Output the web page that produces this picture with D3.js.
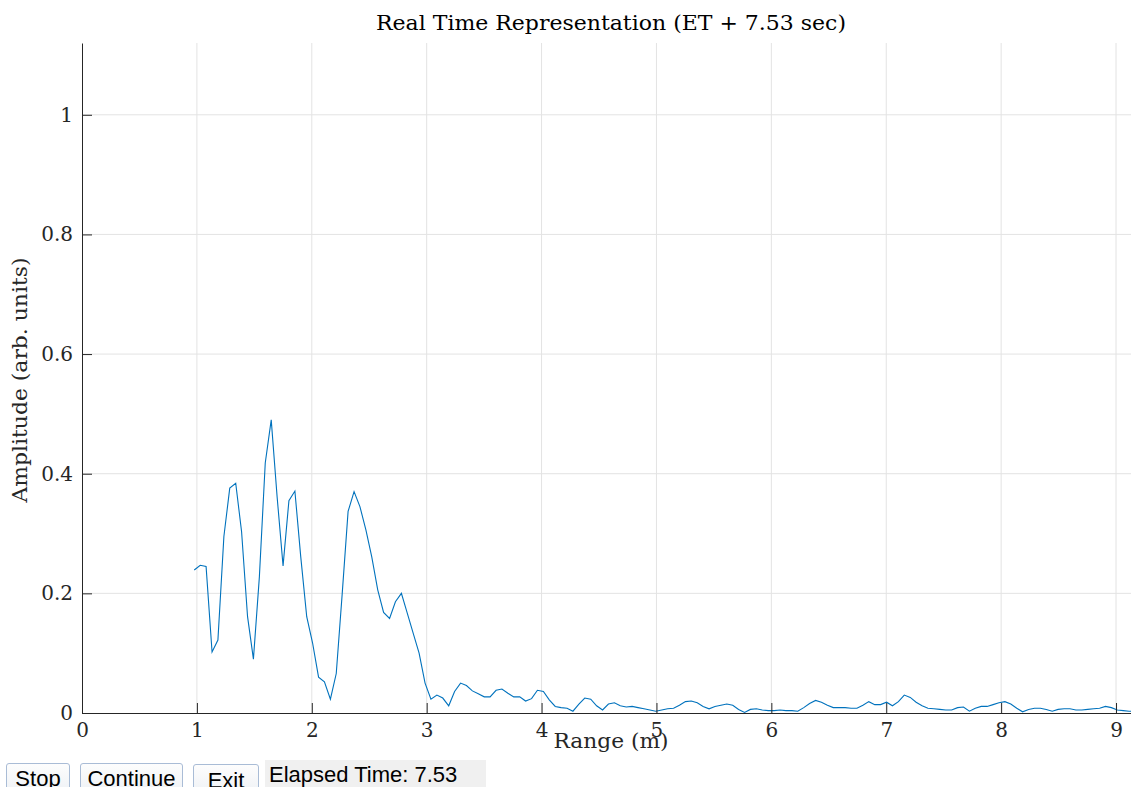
<!DOCTYPE html>
<html>
<head>
<meta charset="utf-8">
<script src="https://cdn.jsdelivr.net/npm/d3@7"></script>
<style>
  html, body { margin: 0; padding: 0; background: #fff; overflow: hidden; }
  #graph { position: absolute; left: 0; top: 0; }
  .grid line { stroke: #e3e3e3; stroke-width: 1; }
  .axis path, .axis line { stroke: #262626; }
  .axis text { font-family: "DejaVu Serif", serif; font-size: 20px; fill: #262626; }
  .line { fill: none; stroke: #0072bd; stroke-width: 1.1; }
  .ctl { position: absolute; font-family: "Liberation Sans", Arial, sans-serif; font-size: 22px;
         color: #000; box-sizing: border-box; }
  .btn { background: linear-gradient(#fdfdfd, #eef1f5); border: 1px solid #a9bcd6; border-radius: 3px;
         text-align: center; line-height: 30px; height: 32px; }
  .lbl { background: #f0f0f0; line-height: 30px; height: 32px; padding-left: 4px; }
</style>
</head>
<body>
<div id="graph"></div>
<div class="ctl btn" style="left:6px; top:763px; width:64px;">Stop</div>
<div class="ctl btn" style="left:80px; top:763px; width:103px;">Continue</div>
<div class="ctl btn" style="left:193px; top:764px; width:66px; line-height:32px;">Exit</div>
<div class="ctl lbl" style="left:265px; top:760px; width:221px;">Elapsed Time: 7.53</div>
<script>
// range bins (m)
var range = [
  0.977, 1.029, 1.080, 1.132, 1.183, 1.235, 1.286, 1.338, 1.389, 1.441,
  1.492, 1.544, 1.595, 1.647, 1.698, 1.750, 1.801, 1.853, 1.904, 1.956,
  2.007, 2.059, 2.110, 2.162, 2.213, 2.265, 2.316, 2.368, 2.419, 2.471,
  2.522, 2.574, 2.625, 2.677, 2.728, 2.780, 2.831, 2.883, 2.934, 2.986,
  3.037, 3.089, 3.140, 3.192, 3.243, 3.295, 3.346, 3.398, 3.449, 3.501,
  3.552, 3.604, 3.655, 3.707, 3.758, 3.810, 3.861, 3.913, 3.964, 4.016,
  4.067, 4.119, 4.170, 4.222, 4.273, 4.325, 4.376, 4.428, 4.479, 4.531,
  4.582, 4.634, 4.685, 4.737, 4.788, 4.840, 4.891, 4.943, 4.994, 5.046,
  5.097, 5.149, 5.200, 5.252, 5.303, 5.355, 5.406, 5.458, 5.509, 5.561,
  5.612, 5.664, 5.715, 5.767, 5.818, 5.870, 5.921, 5.973, 6.024, 6.076,
  6.127, 6.179, 6.230, 6.282, 6.333, 6.385, 6.436, 6.488, 6.539, 6.591,
  6.642, 6.694, 6.745, 6.797, 6.848, 6.900, 6.951, 7.003, 7.054, 7.106,
  7.157, 7.209, 7.260, 7.312, 7.363, 7.415, 7.466, 7.518, 7.569, 7.621,
  7.672, 7.724, 7.775, 7.827, 7.878, 7.930, 7.981, 8.033, 8.084, 8.136,
  8.187, 8.239, 8.290, 8.342, 8.393, 8.445, 8.496, 8.548, 8.599, 8.651,
  8.702, 8.754, 8.805, 8.857, 8.908, 8.960, 9.011, 9.063, 9.114, 9.166
];

// amplitude (arb. units)
var amplitude = [
  0.239, 0.247, 0.245, 0.102, 0.122, 0.295, 0.376, 0.384, 0.303, 0.161,
  0.090, 0.228, 0.418, 0.490, 0.362, 0.246, 0.355, 0.371, 0.261, 0.161,
  0.117, 0.060, 0.052, 0.023, 0.066, 0.200, 0.337, 0.370, 0.345, 0.306,
  0.261, 0.206, 0.168, 0.158, 0.186, 0.200, 0.167, 0.133, 0.100, 0.050,
  0.023, 0.030, 0.025, 0.012, 0.036, 0.050, 0.046, 0.037, 0.032, 0.027,
  0.027, 0.038, 0.040, 0.033, 0.027, 0.027, 0.020, 0.024, 0.038, 0.036,
  0.022, 0.011, 0.009, 0.008, 0.003, 0.015, 0.025, 0.023, 0.012, 0.005,
  0.015, 0.017, 0.012, 0.010, 0.011, 0.009, 0.007, 0.005, 0.003, 0.005,
  0.007, 0.008, 0.013, 0.019, 0.020, 0.017, 0.011, 0.007, 0.011, 0.013,
  0.015, 0.013, 0.006, 0.001, 0.006, 0.007, 0.005, 0.004, 0.004, 0.005,
  0.004, 0.004, 0.003, 0.009, 0.016, 0.021, 0.018, 0.013, 0.009, 0.009,
  0.009, 0.008, 0.008, 0.013, 0.019, 0.014, 0.014, 0.018, 0.012, 0.019,
  0.030, 0.026, 0.018, 0.012, 0.008, 0.007, 0.006, 0.005, 0.005, 0.009,
  0.010, 0.003, 0.008, 0.011, 0.011, 0.014, 0.017, 0.019, 0.015, 0.008,
  0.002, 0.006, 0.008, 0.008, 0.006, 0.003, 0.006, 0.007, 0.007, 0.005,
  0.005, 0.006, 0.007, 0.008, 0.011, 0.009, 0.005, 0.004, 0.003, 0.003
];

var xTicks = [0, 1, 2, 3, 4, 5, 6, 7, 8, 9];
var yTicks = [0, 0.2, 0.4, 0.6, 0.8, 1];
var titleText = "Real Time Representation (ET + 7.53 sec)";
var xLabel = "Range (m)";
var yLabel = "Amplitude (arb. units)";

var W = 1131, H = 787;
var margin = {top: 43, left: 82, bottom: 74};
var plotH = H - margin.top - margin.bottom;   // 670
var plotW = 1057;                             // axes run past the window edge

var xScale = d3.scaleLinear().domain([0, 9.2]).range([0, plotW]);
var yScale = d3.scaleLinear().domain([0, 1.12]).range([plotH, 0]);

var svg = d3.select("#graph").append("svg")
    .attr("width", W)
    .attr("height", H);

var g = svg.append("g")
    .attr("transform", "translate(" + margin.left + "," + margin.top + ")");

// grid
g.append("g").attr("class", "grid")
    .selectAll("line.v").data(xTicks.slice(1)).enter().append("line")
    .attr("x1", function(d) { return xScale(d); })
    .attr("x2", function(d) { return xScale(d); })
    .attr("y1", 0).attr("y2", plotH);
g.append("g").attr("class", "grid")
    .selectAll("line.h").data(yTicks.slice(1)).enter().append("line")
    .attr("x1", 0).attr("x2", plotW)
    .attr("y1", function(d) { return yScale(d); })
    .attr("y2", function(d) { return yScale(d); });

// the trace
var line = d3.line()
    .x(function(d, i) { return xScale(range[i]); })
    .y(function(d) { return yScale(d); });

g.append("path")
    .datum(amplitude)
    .attr("class", "line")
    .attr("d", line);

// axes, ticks pointing inward like matlab
var xAxis = g.append("g")
    .attr("class", "x axis")
    .attr("transform", "translate(0," + plotH + ")")
    .call(d3.axisBottom(xScale).tickValues(xTicks).tickSizeInner(-10).tickSizeOuter(0)
        .tickPadding(17).tickFormat(d3.format("d")));
xAxis.selectAll("text").attr("dy", "0.35em");

g.append("g")
    .attr("class", "y axis")
    .call(d3.axisLeft(yScale).tickValues(yTicks).tickSizeInner(-10).tickSizeOuter(0)
        .tickPadding(9).tickFormat(function(d) { return d3.format("")(d); }));

// title + labels (stretched to the wide TeX font of the original)
function label(sel, size, len) {
    return sel.attr("text-anchor", "middle")
        .attr("textLength", len)
        .attr("lengthAdjust", "spacingAndGlyphs")
        .style("font-family", "DejaVu Serif, serif")
        .style("font-size", size + "px");
}

label(svg.append("text").attr("x", 611).attr("y", 30), 20, 470)
    .style("fill", "#000")
    .text(titleText);

label(svg.append("text").attr("x", 611).attr("y", 748), 20, 115)
    .style("fill", "#262626")
    .text(xLabel);

label(svg.append("text").attr("transform", "translate(27,380) rotate(-90)"), 20, 245)
    .style("fill", "#262626")
    .text(yLabel);
</script>
</body>
</html>
